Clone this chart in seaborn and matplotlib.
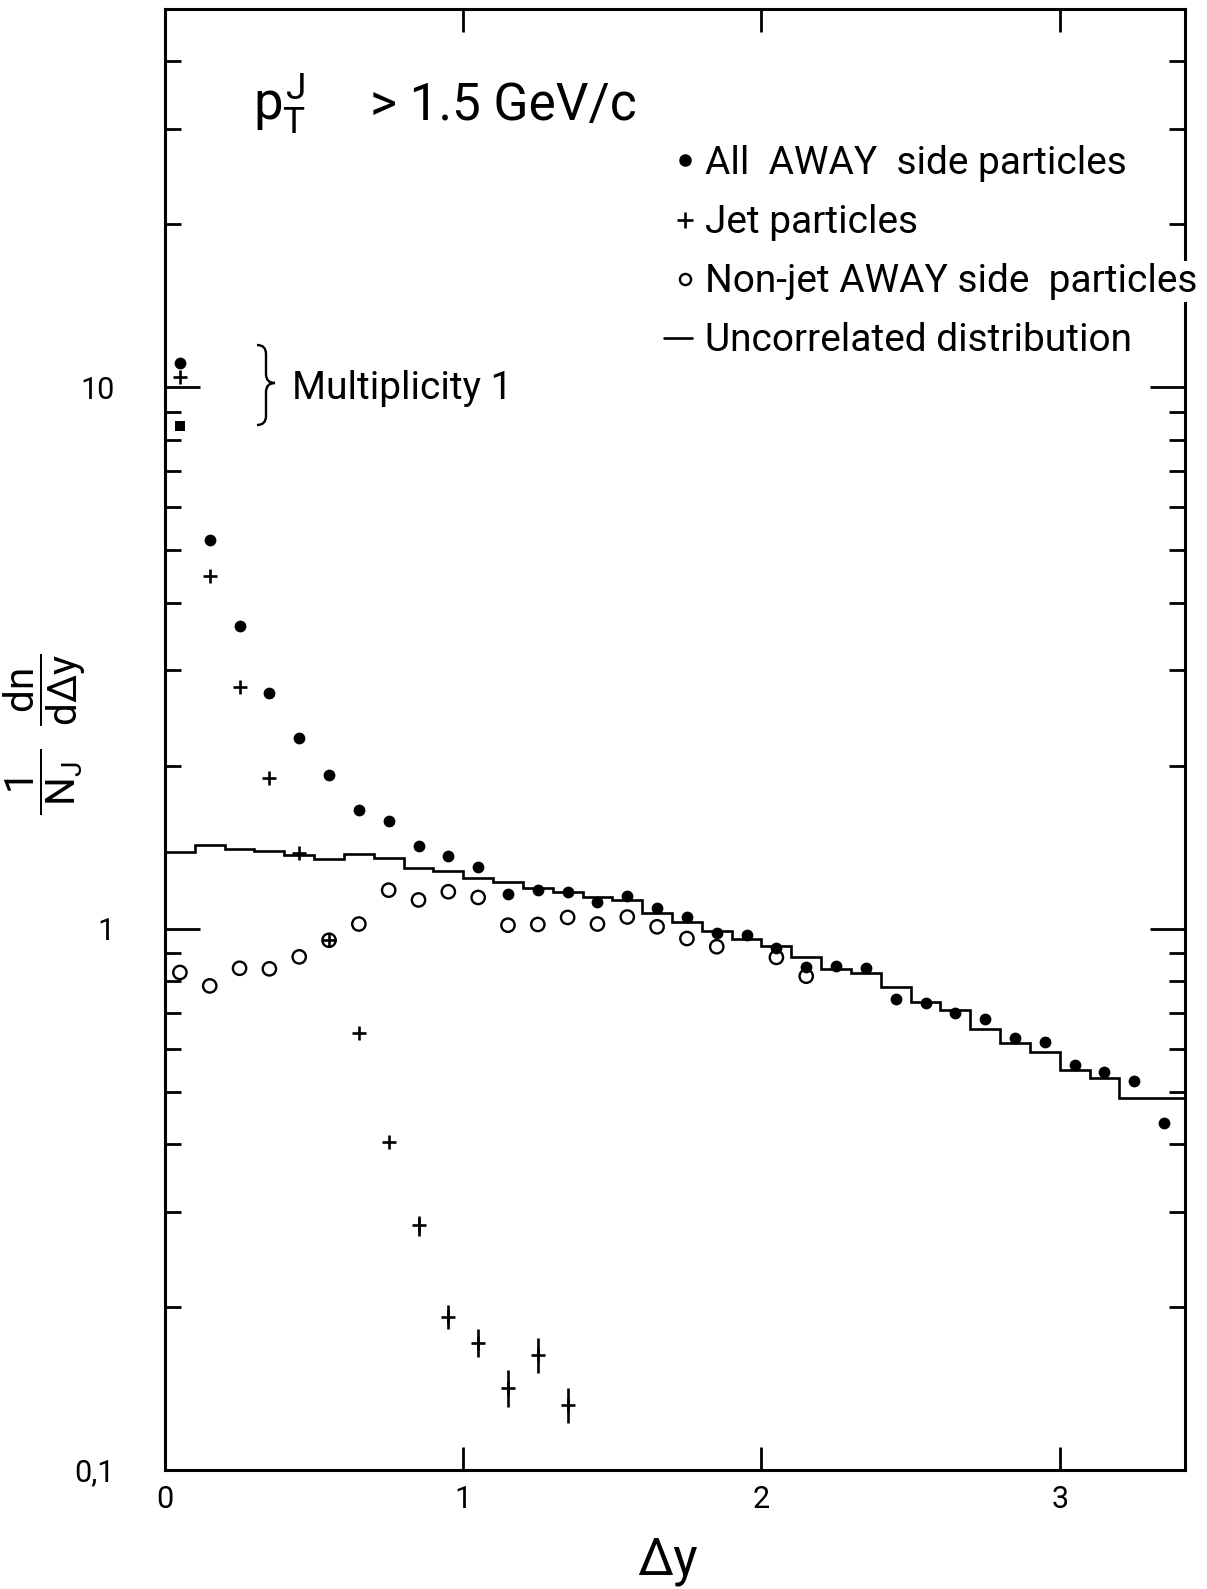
import numpy as np
import matplotlib
matplotlib.use("Agg")
import matplotlib.pyplot as plt
from matplotlib.path import Path
from matplotlib.patches import PathPatch
from matplotlib.ticker import FixedLocator, FixedFormatter, NullLocator, LogLocator, NullFormatter
import seaborn as sns

# ---------------- data ----------------
# bin centres in rapidity difference
dy_all = [0.05, 0.15, 0.25, 0.35, 0.45, 0.55, 0.65, 0.75, 0.85, 0.95,
          1.05, 1.15, 1.25, 1.35, 1.45, 1.55, 1.65, 1.75, 1.85, 1.95,
          2.05, 2.15, 2.25, 2.35, 2.45, 2.55, 2.65, 2.75, 2.85, 2.95,
          3.05, 3.15, 3.25, 3.35]
# all AWAY side particles
all_away = [11.1, 5.23, 3.62, 2.73, 2.25, 1.92, 1.66, 1.58, 1.42, 1.36,
            1.30, 1.16, 1.18, 1.17, 1.12, 1.15, 1.09, 1.05, 0.98, 0.975,
            0.92, 0.85, 0.855, 0.845, 0.74, 0.728, 0.698, 0.68, 0.627, 0.618,
            0.56, 0.544, 0.524, 0.437]

# jet particles
dy_jet = [0.05, 0.15, 0.25, 0.35, 0.45, 0.55, 0.65, 0.75, 0.85, 0.95,
          1.05, 1.15, 1.25, 1.35]
jet = [10.45, 4.48, 2.80, 1.90, 1.38, 0.952, 0.643, 0.403, 0.283, 0.192,
       0.172, 0.142, 0.163, 0.132]
jet_err = [0, 0, 0, 0, 0, 0, 0, 0, 0.012, 0.010,
           0.010, 0.011, 0.012, 0.010]

# non-jet AWAY side particles
dy_nonjet = [0.05, 0.15, 0.25, 0.35, 0.45, 0.55, 0.65, 0.75, 0.85, 0.95,
             1.05, 1.15, 1.25, 1.35, 1.45, 1.55, 1.65, 1.75, 1.85,
             2.05, 2.15]
nonjet = [0.830, 0.784, 0.845, 0.843, 0.887, 0.952, 1.02, 1.178, 1.13, 1.17,
          1.142, 1.015, 1.018, 1.049, 1.02, 1.051, 1.008, 0.959, 0.926,
          0.885, 0.817]

# multiplicity-1 point in the first bin
dy_mult1 = [0.05]
mult1 = [8.5]

# uncorrelated distribution (histogram)
uncorr_edges = [0.0, 0.1, 0.2, 0.3, 0.4, 0.5, 0.6, 0.7, 0.8, 0.9, 1.0,
                1.1, 1.2, 1.3, 1.4, 1.5, 1.6, 1.7, 1.8, 1.9, 2.0,
                2.1, 2.2, 2.3, 2.4, 2.5, 2.6, 2.7, 2.8, 2.9, 3.0,
                3.1, 3.2, 3.42]
uncorr = [1.383, 1.426, 1.406, 1.392, 1.37, 1.344, 1.373, 1.348, 1.295, 1.279,
          1.243, 1.220, 1.188, 1.168, 1.145, 1.131, 1.070, 1.029, 0.991, 0.959,
          0.928, 0.887, 0.844, 0.827, 0.779, 0.732, 0.707, 0.654, 0.614, 0.592,
          0.548, 0.529, 0.486]

x_ticks = [0, 1, 2, 3]
x_ticklabels = ["0", "1", "2", "3"]
y_ticks = [0.1, 1, 10]
y_ticklabels = ["0,1", "1", "10"]

legend_labels = ["All  AWAY  side particles",
                 "Jet particles",
                 "Non-jet AWAY side  particles",
                 "Uncorrelated distribution"]

# ---------------- style ----------------
sns.set_theme(style="ticks")
plt.rcParams["font.family"] = ["Roboto", "DejaVu Sans"]
plt.rcParams.update({
    "mathtext.fontset": "custom",
    "mathtext.rm": "Roboto",
    "mathtext.it": "Roboto",
    "mathtext.bf": "Roboto:bold",
    "mathtext.sf": "Roboto",
    "text.color": "black",
    "xtick.labelsize": 22,
    "ytick.labelsize": 22,
})

W, H = 1207, 1589
fig = plt.figure(figsize=(W / 100, H / 100), dpi=100)
fig.patch.set_facecolor("white")
L, R, B, T = 165, 1185, 1470, 9
ax = fig.add_axes([L / W, 1 - B / H, (R - L) / W, (B - T) / H])
ax.set_facecolor("white")

# ---------------- marks ----------------
ax.stairs(uncorr, uncorr_edges, color="black", linewidth=1.9, zorder=2)

sns.scatterplot(x=dy_all, y=all_away, marker="o", s=72, color="black",
                edgecolor="black", linewidth=0, ax=ax, zorder=4, legend=False)

sns.scatterplot(x=dy_nonjet, y=nonjet, marker="o", s=92, color="black",
                linewidth=1.7, ax=ax, zorder=3, legend=False)
ring = ax.collections[-1]
ring.set_facecolor("none")
ring.set_edgecolor("black")
ring.set_linewidth(1.7)

sns.scatterplot(x=dy_jet, y=jet, marker="+", s=110, color="black",
                linewidth=1.9, ax=ax, zorder=4, legend=False)
ax.errorbar(dy_jet, jet, yerr=jet_err, fmt="none", ecolor="black",
            elinewidth=1.9, capsize=0, zorder=4)

sns.scatterplot(x=dy_mult1, y=mult1, marker="s", s=60, color="black",
                linewidth=0, ax=ax, zorder=4, legend=False)

# ---------------- axes ----------------
ax.set_yscale("log")
ax.set_xlim(0, 3.42)
ax.set_ylim(0.1, 50)
ax.set_xlabel("")
ax.set_ylabel("")
ax.yaxis.set_major_locator(FixedLocator(y_ticks))
ax.yaxis.set_major_formatter(FixedFormatter(y_ticklabels))
ax.yaxis.set_minor_locator(LogLocator(base=10, subs=np.arange(2, 10)))
ax.yaxis.set_minor_formatter(NullFormatter())
ax.xaxis.set_major_locator(FixedLocator(x_ticks))
ax.xaxis.set_major_formatter(FixedFormatter(x_ticklabels))
ax.xaxis.set_minor_locator(NullLocator())

ax.tick_params(which="both", direction="in", top=True, right=True,
               width=2.0, color="black", labelcolor="black")
ax.tick_params(axis="both", which="major", labelsize=22)
ax.tick_params(axis="y", which="major", length=25, pad=36)
ax.tick_params(axis="y", which="minor", length=11.5)
ax.tick_params(axis="x", which="major", length=16.5, pad=11)
for sp in ax.spines.values():
    sp.set_linewidth(2.2)
    sp.set_color("black")
    sp.set_visible(True)

# ---------------- annotations (pixel overlay) ----------------
ov = fig.add_axes([0, 0, 1, 1], zorder=5)
ov.set_xlim(0, W)
ov.set_ylim(H, 0)
ov.axis("off")
ov.patch.set_alpha(0)

ov.text(667, 1561, "Δy", fontsize=37, ha="center", va="center")
ov.text(45, 734, r"$\dfrac{1}{\;N_J\;}\;\;\dfrac{dn}{d\Delta y}$", rotation=90,
        fontsize=29, ha="center", va="center")

ov.text(253, 120, r"$p_T^J$", fontsize=38, va="baseline")
ov.text(370, 120, "> 1.5 GeV/c", fontsize=37, va="baseline")

# legend entries
ov.plot([685], [160], "o", ms=8, color="black")
ov.plot([685], [220], "+", ms=11, mew=1.9, color="black")
ov.plot([685], [279], "o", ms=8, mfc="none", mec="black", mew=1.7)
ov.plot([664, 692], [337.5, 337.5], color="black", lw=1.9)
for lab, yb in zip(legend_labels, [174, 233, 292, 351]):
    ov.text(705, yb, lab, fontsize=28, va="baseline",
            bbox=dict(facecolor="white", edgecolor="none", pad=1.5))

# multiplicity-1 brace and label
x0, xm, xt = 257, 266, 275
yt, ymid, yb_ = 345, 383, 425
r = 9
verts = [(x0, yt), (xm, yt), (xm, yt + r), (xm, ymid - r), (xm, ymid), (xt, ymid),
         (xm, ymid), (xm, ymid + r), (xm, yb_ - r), (xm, yb_), (x0, yb_)]
codes = [Path.MOVETO, Path.CURVE3, Path.CURVE3, Path.LINETO, Path.CURVE3, Path.CURVE3,
         Path.CURVE3, Path.CURVE3, Path.LINETO, Path.CURVE3, Path.CURVE3]
ov.add_patch(PathPatch(Path(verts, codes), fill=False, lw=1.7, edgecolor="black"))
ov.text(292, 399, "Multiplicity 1", fontsize=28, va="baseline")

fig.savefig("out.png", dpi=100, facecolor="white")
